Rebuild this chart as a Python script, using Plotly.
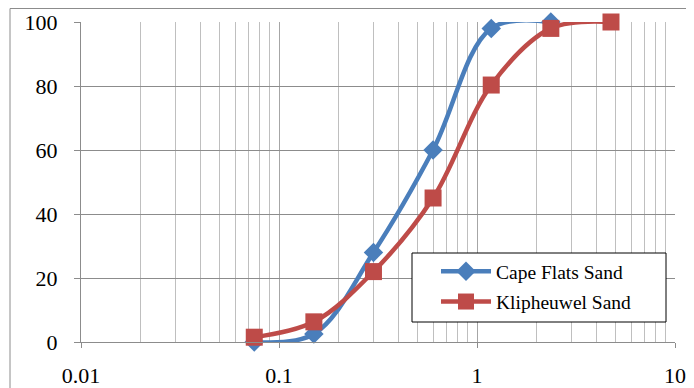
import plotly.graph_objects as go

sieve_cape = [0.075, 0.15, 0.3, 0.6, 1.18, 2.36]
pass_cape = [0, 2.5, 28, 60, 98, 100]
sieve_klip = [0.075, 0.15, 0.3, 0.6, 1.18, 2.36, 4.75]
pass_klip = [1.5, 6.3, 22, 45, 80.3, 98, 100]
x_ticks = [0.01, 0.1, 1, 10]
x_ticktext = ["0.01", "0.1", "1", "10"]
y_ticks = [0, 20, 40, 60, 80, 100]

# page body has an 8px margin; figure sized to fit inside the window
W, H = 686, 380
L, R, T, B = 73, 19, 14, 46
pw, ph = W - L - R, H - T - B
SERIF = "Liberation Serif, Times New Roman, serif"

fig = go.Figure()
fig.add_trace(go.Scatter(
    x=sieve_cape, y=pass_cape, name="Cape Flats Sand", mode="lines+markers",
    legendgroup="a",
    line=dict(color="#4a7ebb", width=4.5, shape="spline", smoothing=1),
    marker=dict(symbol="diamond", size=15, color="#4a7ebb"),
    cliponaxis=False))
fig.add_trace(go.Scatter(
    x=sieve_klip, y=pass_klip, name="Klipheuwel Sand", mode="lines+markers",
    legendgroup="b",
    line=dict(color="#be4b48", width=4.5, shape="spline", smoothing=1),
    marker=dict(symbol="square", size=17, color="#be4b48"),
    cliponaxis=False))

# outer chart border
fig.add_shape(type="rect", xref="paper", yref="paper",
              x0=(2 - L) / pw, x1=(W + 20 - L) / pw,
              y0=-(B + 20) / ph, y1=(H - B - 0.5) / ph,
              line=dict(color="#8c8c8c", width=1), layer="below")
# legend frame
fig.add_shape(type="rect", xref="paper", yref="paper",
              x0=(412 - 81) / pw, x1=(666 - 81) / pw,
              y0=(342 - 322) / ph, y1=(342 - 253) / ph,
              line=dict(color="black", width=1), fillcolor="white", layer="above")

fig.update_layout(
    width=W, height=H,
    margin=dict(l=L, r=R, t=T, b=B, autoexpand=False),
    paper_bgcolor="white", plot_bgcolor="white",
    font=dict(family=SERIF, color="black", size=22),
    showlegend=True,
    legend=dict(x=(436 - 81) / pw, y=(342 - 252) / ph, xanchor="left", yanchor="top",
                borderwidth=0, bgcolor="rgba(0,0,0,0)",
                font=dict(size=19.5, family=SERIF),
                itemwidth=50, tracegroupgap=2),
    xaxis=dict(type="log", range=[-2, 1], tickvals=x_ticks, ticktext=x_ticktext,
               showgrid=True, gridcolor="#a6a6a6", gridwidth=1,
               ticks="outside", ticklen=5, tickcolor="#8c8c8c",
               showline=True, linecolor="#8c8c8c", linewidth=1, zeroline=False,
               minor=dict(showgrid=True, gridcolor="#bfbfbf", gridwidth=1, dtick="D1", ticks=""),
               tickfont=dict(size=22, family=SERIF), ticklabelstandoff=9),
    yaxis=dict(range=[0, 100], tickvals=y_ticks, showgrid=True, gridcolor="#8c8c8c",
               gridwidth=1, ticks="outside", ticklen=6, tickcolor="#8c8c8c",
               showline=True, linecolor="#8c8c8c", linewidth=1, zeroline=False,
               tickfont=dict(size=22, family=SERIF), ticklabelstandoff=12),
)

fig.write_html("out.html")
